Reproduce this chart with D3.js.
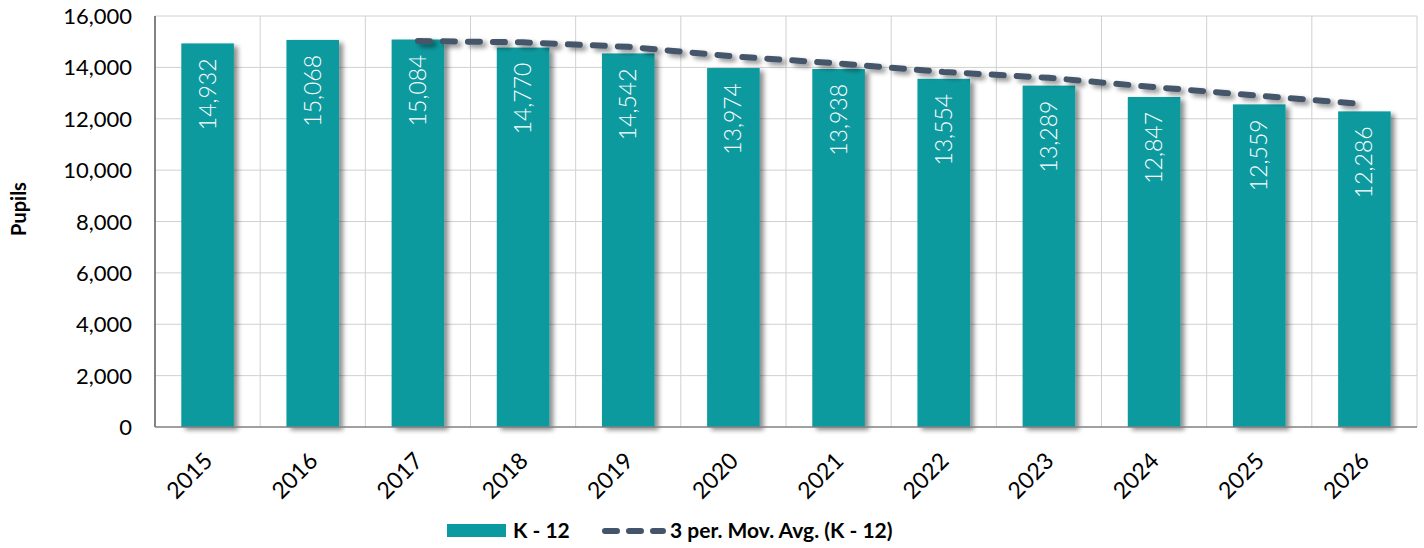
<!DOCTYPE html>
<meta charset="utf-8">
<style>
html, body { margin: 0; padding: 0; background: #fff; }
body { font-family: Lato, 'Open Sans', sans-serif; }
</style>
<svg id="chart" width="1424" height="548"></svg>
<script src="https://cdn.jsdelivr.net/npm/d3@7"></script>
<script>
var years = ['2015','2016','2017','2018','2019','2020','2021','2022','2023','2024','2025','2026'];
var pupils = [14932, 15068, 15084, 14770, 14542, 13974, 13938, 13554, 13289, 12847, 12559, 12286];
// 3 period moving average, starts at 2017
var movAvg = [null, null, 15028, 14974, 14799, 14429, 14151, 13822, 13594, 13230, 12898, 12564];
var yTicks = [0, 2000, 4000, 6000, 8000, 10000, 12000, 14000, 16000];

var barColor = '#0A9A9F';
var lineColor = '#44546A';

var svg = d3.select('#chart');
var pLeft = 155, pRight = 1417, pTop = 16, pBottom = 427;

var x = d3.scaleBand().domain(years).range([pLeft, pRight]).paddingInner(0).paddingOuter(0);
var y = d3.scaleLinear().domain([0, 16000]).range([pBottom, pTop]);

// shadow filter
var defs = svg.append('defs');
var f = defs.append('filter').attr('id', 'shadow')
  .attr('x', '-20%').attr('y', '-20%').attr('width', '150%').attr('height', '150%');
f.append('feGaussianBlur').attr('in', 'SourceAlpha').attr('stdDeviation', 2.5).attr('result', 'b');
f.append('feOffset').attr('in', 'b').attr('dx', 4).attr('dy', 3).attr('result', 'o');
f.append('feComponentTransfer').attr('in', 'o').attr('result', 'o2')
  .append('feFuncA').attr('type', 'linear').attr('slope', 0.45);
var m = f.append('feMerge');
m.append('feMergeNode').attr('in', 'o2');
m.append('feMergeNode').attr('in', 'SourceGraphic');

// gridlines
svg.append('g').selectAll('line')
  .data(yTicks.slice(1))
  .enter().append('line')
  .attr('x1', pLeft).attr('x2', pRight)
  .attr('y1', function(d) { return y(d); }).attr('y2', function(d) { return y(d); })
  .attr('stroke', '#d0d0d0').attr('stroke-width', 1);
svg.append('g').selectAll('line')
  .data(years)
  .enter().append('line')
  .attr('x1', function(d) { return x(d) + x.bandwidth(); })
  .attr('x2', function(d) { return x(d) + x.bandwidth(); })
  .attr('y1', pTop).attr('y2', pBottom)
  .attr('stroke', '#d0d0d0').attr('stroke-width', 1);

// bars
var bw = x.bandwidth() * 0.5;
svg.append('g').selectAll('rect')
  .data(pupils)
  .enter().append('rect')
  .attr('x', function(d, i) { return x(years[i]) + (x.bandwidth() - bw) / 2; })
  .attr('y', function(d) { return y(d); })
  .attr('width', bw)
  .attr('height', function(d) { return pBottom - y(d); })
  .attr('fill', barColor)
  .attr('filter', 'url(#shadow)');

// bar labels
svg.append('g').selectAll('text')
  .data(pupils)
  .enter().append('text')
  .attr('transform', function(d, i) {
    var cx = x(years[i]) + x.bandwidth() / 2;
    return 'translate(' + (cx + 8) + ',' + (y(d) + 15) + ') rotate(-90)';
  })
  .attr('text-anchor', 'end')
  .attr('font-size', '23px')
  .attr('font-weight', 300)
  .attr('fill', '#fff')
  .text(function(d) { return d3.format(',')(d); });

// moving average line
var line = d3.line()
  .defined(function(d) { return d != null; })
  .x(function(d, i) { return x(years[i]) + x.bandwidth() / 2; })
  .y(function(d) { return y(d); });
svg.append('path')
  .datum(movAvg)
  .attr('d', line)
  .attr('fill', 'none')
  .attr('stroke', lineColor)
  .attr('stroke-width', 6)
  .attr('stroke-linecap', 'round')
  .attr('stroke-dasharray', '12,13')
  .attr('filter', 'url(#shadow)');

// axes
svg.append('line')
  .attr('x1', pLeft).attr('x2', pLeft).attr('y1', pTop).attr('y2', pBottom)
  .attr('stroke', '#595959').attr('stroke-width', 1.5);
svg.append('line')
  .attr('x1', pLeft).attr('x2', pRight).attr('y1', pBottom).attr('y2', pBottom)
  .attr('stroke', '#808080').attr('stroke-width', 1.5);

svg.append('g').selectAll('text')
  .data(yTicks)
  .enter().append('text')
  .attr('x', pLeft - 23)
  .attr('y', function(d) { return y(d) + 8; })
  .attr('text-anchor', 'end')
  .attr('font-size', '22px')
  .attr('fill', '#000')
  .text(function(d) { return d3.format(',')(d); });

svg.append('g').selectAll('text')
  .data(years)
  .enter().append('text')
  .attr('transform', function(d) {
    return 'translate(' + (x(d) + x.bandwidth() / 2 - 5) + ',' + (pBottom + 24) + ') rotate(-45)';
  })
  .attr('text-anchor', 'end')
  .attr('dy', '0.7em')
  .attr('font-size', '23px')
  .attr('fill', '#000')
  .text(function(d) { return d; });

svg.append('text')
  .attr('transform', 'translate(26,209) rotate(-90)')
  .attr('text-anchor', 'middle')
  .attr('font-size', '20px')
  .attr('font-weight', 'bold')
  .text('Pupils');

// legend
var lg = svg.append('g');
lg.append('rect').attr('x', 447).attr('y', 524).attr('width', 59).attr('height', 13).attr('fill', barColor);
lg.append('text').attr('x', 513).attr('y', 538).attr('font-size', '21px').attr('font-weight', 'bold').text('K - 12');
lg.append('line').attr('x1', 605).attr('x2', 663).attr('y1', 531).attr('y2', 531)
  .attr('stroke', lineColor).attr('stroke-width', 6).attr('stroke-linecap', 'round')
  .attr('stroke-dasharray', '12,12');
lg.append('text').attr('x', 670).attr('y', 538).attr('font-size', '21px').attr('font-weight', 'bold').text('3 per. Mov. Avg. (K - 12)');
</script>
